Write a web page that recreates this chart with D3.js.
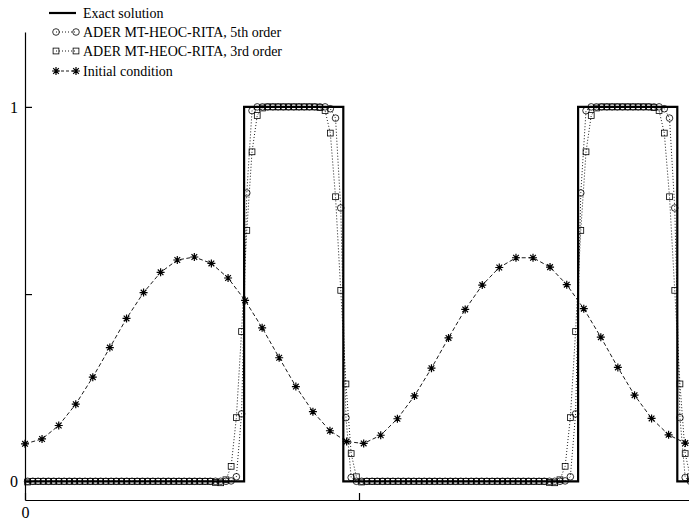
<!DOCTYPE html>
<html>
<head>
<meta charset="utf-8">
<script src="https://cdn.jsdelivr.net/npm/d3@7"></script>
<style>
  body { margin: 0; background: #fff; }
  svg { display: block; }
  svg text { font-family: "Liberation Serif", "DejaVu Serif", serif; }
</style>
</head>
<body>
<div id="chart"></div>
<script>
// Exact solution (square wave), breakpoints
const exactX = [0, 0.656, 0.656, 0.953, 0.953, 1.656, 1.656, 1.953, 1.953, 2];
const exactY = [0, 0, 1, 1, 0, 0, 1, 1, 0, 0];

// Numerical solutions on 128 cell centres over [0, 2]
const nCells = 128;
const cellWidth = 2 / nCells;

const order5 = [
  0, 0, 0, 0, 0, 0, 0, 0, 0, 0, 0, 0, 0, 0, 0, 0,
  0, 0, 0, 0, 0, 0, 0, 0, 0, 0, 0, 0, 0, 0, 0, 0,
  0, 0, 0, 0, 0, 0, 0, 0.001, 0.012, 0.18, 0.77, 0.99, 1, 1, 1, 1,
  1, 1, 1, 1, 1, 1, 1, 1, 1, 1, 0.995, 0.97, 0.73, 0.17, 0.01, 0,
  0, 0, 0, 0, 0, 0, 0, 0, 0, 0, 0, 0, 0, 0, 0, 0,
  0, 0, 0, 0, 0, 0, 0, 0, 0, 0, 0, 0, 0, 0, 0, 0,
  0, 0, 0, 0, 0, 0, 0, 0.001, 0.012, 0.18, 0.77, 0.99, 1, 1, 1, 1,
  1, 1, 1, 1, 1, 1, 1, 1, 1, 1, 0.995, 0.97, 0.73, 0.17, 0.01, 0
];

const order3 = [
  -0.002, 0, 0, 0, 0, 0, 0, 0, 0, 0, 0, 0, 0, 0, 0, 0,
  0, 0, 0, 0, 0, 0, 0, 0, 0, 0, 0, 0, 0, 0, 0, 0,
  0, 0, 0, 0, -0.003, -0.004, 0.004, 0.04, 0.17, 0.40, 0.67, 0.88, 0.977, 0.997, 1, 1,
  1, 1, 1, 1, 1, 1, 1, 1, 0.998, 0.99, 0.93, 0.76, 0.51, 0.26, 0.074, 0.012,
  -0.002, 0, 0, 0, 0, 0, 0, 0, 0, 0, 0, 0, 0, 0, 0, 0,
  0, 0, 0, 0, 0, 0, 0, 0, 0, 0, 0, 0, 0, 0, 0, 0,
  0, 0, 0, 0, -0.003, -0.004, 0.004, 0.04, 0.17, 0.40, 0.67, 0.88, 0.977, 0.997, 1, 1,
  1, 1, 1, 1, 1, 1, 1, 1, 0.998, 0.99, 0.93, 0.76, 0.51, 0.26, 0.074, 0.012
];

// Initial condition
const icX = [0, 0.051, 0.101, 0.152, 0.203, 0.254, 0.304, 0.355, 0.406, 0.456,
  0.507, 0.558, 0.608, 0.659, 0.710, 0.761, 0.811, 0.862, 0.913, 0.963,
  1.014, 1.065, 1.115, 1.166, 1.217, 1.268, 1.318, 1.369, 1.420, 1.470,
  1.521, 1.572, 1.622, 1.673, 1.724, 1.775, 1.825, 1.876, 1.927, 1.977];
const icY = [0.100, 0.113, 0.149, 0.206, 0.278, 0.357, 0.435, 0.504, 0.558, 0.591,
  0.599, 0.582, 0.543, 0.483, 0.410, 0.330, 0.253, 0.186, 0.135, 0.106,
  0.101, 0.123, 0.167, 0.228, 0.302, 0.383, 0.459, 0.524, 0.571, 0.597,
  0.597, 0.572, 0.525, 0.461, 0.385, 0.304, 0.230, 0.168, 0.124, 0.102];

const yTicks = [0, 0.5, 1];
const yTickLabels = ["0", "", "1"];
const xTicks = [0, 1];
const xTickLabels = ["0", ""];

const legendLabels = [
  "Exact solution",
  "ADER MT-HEOC-RITA, 5th order",
  "ADER MT-HEOC-RITA, 3rd order",
  "Initial condition"
];

// Layout
const width = 689;
const height = 523;

const x = d3.scaleLinear().domain([0, 2]).range([25, 693]);
const y = d3.scaleLinear().domain([-0.05, 1.2]).range([500, 32]);

const svg = d3.select("#chart")
  .append("svg")
  .attr("width", width)
  .attr("height", height);

const cellX = d3.range(nCells).map(i => (i + 0.5) * cellWidth);

const line = d3.line().x(d => x(d[0])).y(d => y(d[1]));

// marker helpers
const starPath = r => {
  const k = r * 0.707;
  return `M${-r},0H${r}M0,${-r}V${r}M${-k},${-k}L${k},${k}M${-k},${k}L${k},${-k}`;
};

function circles(g, pts) {
  g.selectAll("circle.m").data(pts).join("circle")
    .attr("class", "m")
    .attr("cx", d => d[0]).attr("cy", d => d[1])
    .attr("r", 3.3)
    .attr("fill", "none").attr("stroke", "#000").attr("stroke-width", 0.8);
}
function squares(g, pts) {
  g.selectAll("rect.m").data(pts).join("rect")
    .attr("class", "m")
    .attr("x", d => d[0] - 2.9).attr("y", d => d[1] - 2.9)
    .attr("width", 5.8).attr("height", 5.8)
    .attr("fill", "none").attr("stroke", "#000").attr("stroke-width", 0.8);
}
function stars(g, pts) {
  g.selectAll("path.m").data(pts).join("path")
    .attr("class", "m")
    .attr("transform", d => `translate(${d[0]},${d[1]})`)
    .attr("d", starPath(4))
    .attr("fill", "none").attr("stroke", "#000").attr("stroke-width", 1.2);
}

// Axes
const yAxis = d3.axisLeft(y)
  .tickValues(yTicks)
  .tickFormat((d, i) => yTickLabels[i])
  .tickSizeInner(-7)
  .tickSizeOuter(0)
  .tickPadding(7);

svg.append("g")
  .attr("transform", `translate(${x(0)},0)`)
  .call(yAxis)
  .call(g => g.attr("font-family", null))
  .call(g => g.selectAll("text").attr("font-size", 16).attr("fill", "#000"))
  .call(g => g.selectAll("line, path").attr("stroke", "#000").attr("stroke-width", 1.2));

const xAxis = d3.axisBottom(x)
  .tickValues(xTicks)
  .tickFormat((d, i) => xTickLabels[i])
  .tickSizeInner(-7)
  .tickSizeOuter(0)
  .tickPadding(7);

svg.append("g")
  .attr("transform", `translate(0,${y(-0.05)})`)
  .call(xAxis)
  .call(g => g.attr("font-family", null))
  .call(g => g.selectAll("text").attr("font-size", 16).attr("fill", "#000"))
  .call(g => g.selectAll("line, path").attr("stroke", "#000").attr("stroke-width", 1.2));

// Exact solution
svg.append("path")
  .datum(d3.zip(exactX, exactY))
  .attr("d", line)
  .attr("fill", "none")
  .attr("stroke", "#000")
  .attr("stroke-width", 2.2);

// 5th order
const pts5 = cellX.map((v, i) => [x(v), y(order5[i])]);
const g5 = svg.append("g");
g5.append("path")
  .datum(d3.zip(cellX, order5))
  .attr("d", line)
  .attr("fill", "none").attr("stroke", "#000").attr("stroke-width", 0.9)
  .attr("stroke-dasharray", "1,2");
circles(g5, pts5);

// 3rd order
const pts3 = cellX.map((v, i) => [x(v), y(order3[i])]);
const g3 = svg.append("g");
g3.append("path")
  .datum(d3.zip(cellX, order3))
  .attr("d", line)
  .attr("fill", "none").attr("stroke", "#000").attr("stroke-width", 0.9)
  .attr("stroke-dasharray", "1,2");
squares(g3, pts3);

// Initial condition
const ptsIc = icX.map((v, i) => [x(v), y(icY[i])]);
const gIc = svg.append("g");
gIc.append("path")
  .datum(d3.zip(icX, icY))
  .attr("d", line)
  .attr("fill", "none").attr("stroke", "#000").attr("stroke-width", 0.9)
  .attr("stroke-dasharray", "4,2.5");
stars(gIc, ptsIc);

// Legend
const legend = svg.append("g");
const rowY = [13, 32, 51, 71];
const sampleX0 = 56, sampleX1 = 76, textX = 83;

legendLabels.forEach((label, i) => {
  const g = legend.append("g").attr("transform", `translate(0,${rowY[i]})`);
  if (i === 0) {
    g.append("line").attr("x1", 49).attr("x2", sampleX1)
      .attr("stroke", "#000").attr("stroke-width", 2.2);
  } else {
    g.append("line").attr("x1", sampleX0).attr("x2", sampleX1)
      .attr("stroke", "#000").attr("stroke-width", 0.9)
      .attr("stroke-dasharray", i === 3 ? "3,2" : "1,2");
    const pts = [[sampleX0, 0], [sampleX1, 0]];
    if (i === 1) circles(g, pts);
    if (i === 2) squares(g, pts);
    if (i === 3) stars(g, pts);
  }
  g.append("text")
    .attr("x", textX)
    .attr("y", 5)
    .attr("font-size", 14)
    .attr("fill", "#000")
    .text(label);
});
</script>
</body>
</html>
